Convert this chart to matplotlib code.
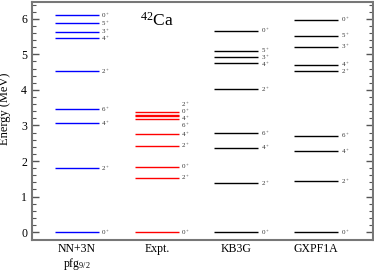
import numpy as np
from matplotlib import pyplot as plt

plt.rcParams['font.family'] = ['Liberation Serif', 'DejaVu Serif']
plt.rcParams['mathtext.fontset'] = 'custom'
plt.rcParams['mathtext.rm'] = 'Liberation Serif'
plt.rcParams['mathtext.it'] = 'Liberation Serif:italic'

# level schemes of 42Ca (MeV) and spins
models = ['NN+3N\npfg$_{9/2}$', 'Expt.', 'KB3G', 'GXPF1A']
colors = ['#0000ff', '#ff0000', 'black', 'black']

nn3n_E = [0.0, 1.80, 3.06, 3.46, 4.52, 5.47, 5.62, 5.87, 6.10]
nn3n_J = ['0', '2', '4', '6', '2', '4', '3', '5', '0']

expt_E = [0.0, 1.525, 1.837, 2.424, 2.752, 3.189, 3.254, 3.300, 3.392]
expt_J = ['0', '2', '0', '2', '4', '6', '4', '0', '2']

kb3g_E = [0.0, 1.38, 2.38, 2.78, 4.02, 4.75, 4.92, 5.08, 5.66]
kb3g_J = ['0', '2', '4', '6', '2', '4', '3', '5', '0']

gxpf_E = [0.0, 1.43, 2.28, 2.71, 4.54, 4.70, 5.21, 5.52, 5.97]
gxpf_J = ['0', '2', '4', '6', '2', '4', '3', '5', '0']

levels = [(nn3n_E, nn3n_J), (expt_E, expt_J), (kb3g_E, kb3g_J), (gxpf_E, gxpf_J)]


def spread(y, gap):
    # push label positions apart so they don't overlap
    y = np.array(y, dtype=float)
    order = np.argsort(y)
    ys = y[order]
    for _ in range(300):
        moved = False
        for i in range(len(ys) - 1):
            d = ys[i + 1] - ys[i]
            if d < gap - 1e-6:
                s = (gap - d) / 2
                ys[i] -= s
                ys[i + 1] += s
                moved = True
        if not moved:
            break
    out = np.empty_like(ys)
    out[order] = ys
    return out


fig = plt.figure(figsize=(3.74, 2.72), dpi=100)
ax = fig.add_axes([0.0856, 0.1176, 0.911, 0.875])

hw = 0.276
for i, ((E, J), c) in enumerate(zip(levels, colors)):
    x = i + 1
    ax.hlines(E, x - hw, x + hw, color=c, lw=1.0)
    ly = spread(E, 0.2)
    for e, j, yy in zip(E, J, ly):
        ax.text(x + hw + 0.03, yy, j + '$^+$', fontsize=5, va='center', ha='left', color='#333333')

ax.text(2.0, 5.95, '$^{42}$Ca', fontsize=12.5, ha='center', va='center')

ax.set_xlim(0.435, 4.71)
ax.set_ylim(-0.22, 6.47)
ax.set_xticks([1, 2, 3, 4])
ax.set_xticklabels(models, fontsize=8.5, linespacing=1.1)
ax.tick_params(axis='x', length=0, pad=2)
ax.set_yticks(range(0, 7))
ax.set_yticks(np.arange(0, 6.45, 0.2), minor=True)
ax.tick_params(axis='y', which='both', direction='in', right=True, labelsize=8.5, colors='#555555', labelcolor='black')
ax.tick_params(axis='y', which='major', length=5, width=1)
ax.tick_params(axis='y', which='minor', length=3, width=0.8)
ax.set_ylabel('Energy (MeV)', fontsize=9)
ax.yaxis.set_label_coords(-0.062, 0.55)
for s in ax.spines.values():
    s.set_color('#777777')
    s.set_linewidth(1.5)

fig.savefig('out.png', dpi=100)
